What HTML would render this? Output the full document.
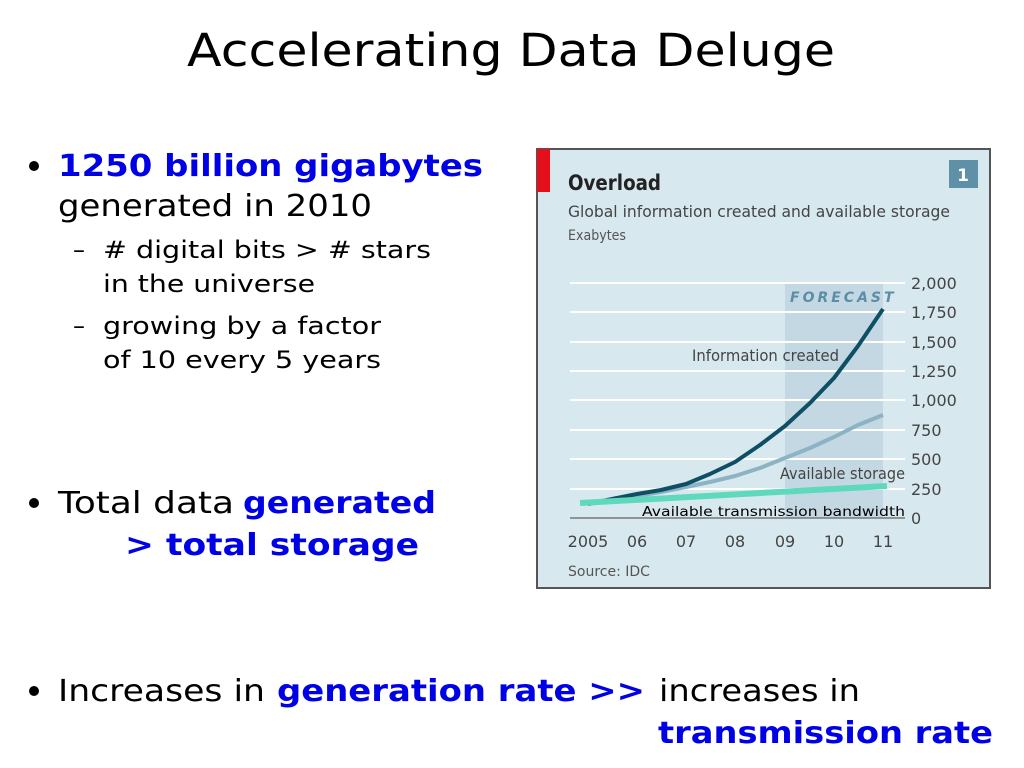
<!DOCTYPE html>
<html><head><meta charset="utf-8"><style>
html,body{margin:0;padding:0;background:#fff;}
svg{display:block;}
text{font-family:"DejaVu Sans","Liberation Sans",sans-serif;}
</style></head><body>
<svg width="1024" height="768" viewBox="0 0 1024 768" xmlns="http://www.w3.org/2000/svg">
<rect width="1024" height="768" fill="#fff"/>
<text x="187" y="66" font-size="45" textLength="648" lengthAdjust="spacingAndGlyphs" fill="#000">Accelerating Data Deluge</text>

<g font-size="30">
<circle cx="34" cy="166" r="5" fill="#000"/>
<text x="58" y="176" font-weight="bold" fill="#0000e6" textLength="425" lengthAdjust="spacingAndGlyphs">1250 billion gigabytes</text>
<text x="58" y="216" fill="#000" textLength="314" lengthAdjust="spacingAndGlyphs">generated in 2010</text>
<circle cx="34" cy="503" r="5" fill="#000"/>
<text x="58" y="513" fill="#000" textLength="176" lengthAdjust="spacingAndGlyphs">Total data</text>
<text x="243" y="513" font-weight="bold" fill="#0000e6" textLength="193" lengthAdjust="spacingAndGlyphs">generated</text>
<text x="125" y="555" font-weight="bold" fill="#0000e6" textLength="294" lengthAdjust="spacingAndGlyphs">&gt;  total storage</text>
<circle cx="34" cy="691" r="5" fill="#000"/>
<text x="58" y="701" fill="#000" textLength="207" lengthAdjust="spacingAndGlyphs">Increases in</text>
<text x="277" y="701" font-weight="bold" fill="#0000e6" textLength="368" lengthAdjust="spacingAndGlyphs">generation rate &gt;&gt;</text>
<text x="659" y="701" fill="#000" textLength="201" lengthAdjust="spacingAndGlyphs">increases in</text>
<text x="658" y="743" font-weight="bold" fill="#0000e6" textLength="335" lengthAdjust="spacingAndGlyphs">transmission rate</text>
</g>
<g font-size="24" fill="#000">
<text x="73" y="258">–</text>
<text x="103" y="258" textLength="328" lengthAdjust="spacingAndGlyphs"># digital bits &gt; # stars</text>
<text x="103" y="292" textLength="212" lengthAdjust="spacingAndGlyphs">in the universe</text>
<text x="73" y="334">–</text>
<text x="103" y="334" textLength="278" lengthAdjust="spacingAndGlyphs">growing by a factor</text>
<text x="103" y="368" textLength="278" lengthAdjust="spacingAndGlyphs">of 10 every 5 years</text>
</g>

<!-- chart -->
<rect x="537" y="149" width="453" height="439" fill="#d8e8ef" stroke="#555" stroke-width="2"/>
<rect x="537" y="149" width="13" height="43" fill="#e3101b"/>
<rect x="949" y="160" width="29" height="28" fill="#5e90a7"/>
<text x="963" y="181" font-size="17" font-weight="bold" fill="#fff" text-anchor="middle" font-family="Liberation Sans,sans-serif">1</text>
<text x="568" y="190" font-size="21" font-weight="bold" fill="#222" font-family="Liberation Sans,sans-serif" textLength="93" lengthAdjust="spacingAndGlyphs">Overload</text>
<text x="568" y="217" font-size="16" fill="#444" font-family="Liberation Sans,sans-serif" textLength="382" lengthAdjust="spacingAndGlyphs">Global information created and available storage</text>
<text x="568" y="240" font-size="14" fill="#555" font-family="Liberation Sans,sans-serif" textLength="58" lengthAdjust="spacingAndGlyphs">Exabytes</text>

<rect x="785" y="283" width="98" height="235" fill="#c4d8e3"/>
<g stroke="#fff" stroke-width="2">
<line x1="570" y1="283" x2="905" y2="283"/><line x1="570" y1="312" x2="905" y2="312"/>
<line x1="570" y1="342" x2="905" y2="342"/><line x1="570" y1="371" x2="905" y2="371"/>
<line x1="570" y1="400" x2="905" y2="400"/><line x1="570" y1="430" x2="905" y2="430"/>
<line x1="570" y1="459" x2="905" y2="459"/><line x1="570" y1="489" x2="905" y2="489"/>
</g>
<line x1="570" y1="518" x2="905" y2="518" stroke="#777" stroke-width="1.5"/>
<text x="790" y="302" font-size="14" font-style="italic" font-weight="bold" fill="#5b8ea6" letter-spacing="3" font-family="Liberation Sans,sans-serif">FORECAST</text>
<g font-size="16" fill="#444" font-family="Liberation Sans,sans-serif">
<text x="911" y="289">2,000</text><text x="911" y="318">1,750</text><text x="911" y="348">1,500</text>
<text x="911" y="377">1,250</text><text x="911" y="406">1,000</text><text x="911" y="436">750</text>
<text x="911" y="465">500</text><text x="911" y="495">250</text><text x="911" y="524">0</text>
<text x="588" y="547" text-anchor="middle">2005</text><text x="637" y="547" text-anchor="middle">06</text>
<text x="686" y="547" text-anchor="middle">07</text><text x="735" y="547" text-anchor="middle">08</text>
<text x="785" y="547" text-anchor="middle">09</text><text x="834" y="547" text-anchor="middle">10</text>
<text x="883" y="547" text-anchor="middle">11</text>
<text x="692" y="361" textLength="147" lengthAdjust="spacingAndGlyphs">Information created</text>
<text x="780" y="479" textLength="125" lengthAdjust="spacingAndGlyphs">Available storage</text>
</g>
<text x="568" y="576" font-size="14" fill="#555" font-family="Liberation Sans,sans-serif">Source: IDC</text>
<polyline points="588,503 612,500 637,496 661,492 686,487 710,482 735,476 760,468 785,458 810,448 834,437 858,425 883,415" fill="none" stroke="#8bb3c4" stroke-width="4" stroke-linejoin="round"/>
<polyline points="588,504 612,499 637,494 661,490 686,484 710,474 735,462 760,445 785,426 810,403 834,378 858,346 883,309" fill="none" stroke="#0e4f66" stroke-width="4" stroke-linejoin="round"/>
<line x1="580" y1="503" x2="887" y2="486" stroke="#5fd9bb" stroke-width="6"/>
<text x="642" y="516" font-size="13" fill="#000" textLength="263" lengthAdjust="spacingAndGlyphs">Available transmission bandwidth</text>
</svg>
</body></html>
